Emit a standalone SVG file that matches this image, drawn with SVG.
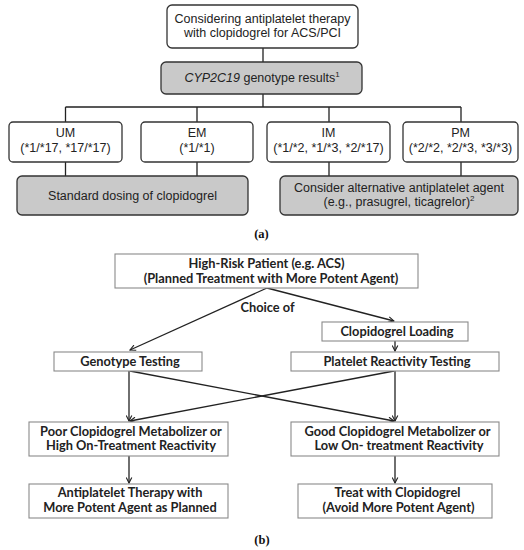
<svg xmlns="http://www.w3.org/2000/svg" width="524" height="550" viewBox="0 0 524 550">
<style>
.a{font-family:"Liberation Sans",Arial,sans-serif;font-size:12.5px;fill:#222;text-anchor:middle}
.b{font-family:Lato,"Open Sans",sans-serif;font-weight:bold;font-size:12.8px;fill:#222;text-anchor:middle}
.cap{font-family:"Liberation Serif",serif;font-weight:bold;font-size:12.5px;fill:#111;text-anchor:middle}
.wa{fill:#fff;stroke:#333;stroke-width:1.3}
.ga{fill:#c9c9c9;stroke:#333;stroke-width:1.3}
.wb{fill:#fff;stroke:#8a8a8a;stroke-width:1.1}
.la{stroke:#222;stroke-width:1.3;fill:none}
.lb{stroke:#222;stroke-width:1.3;fill:none}
</style>
<defs>
<marker id="arr" viewBox="0 0 10 10" refX="9" refY="5" markerWidth="7" markerHeight="7" orient="auto" markerUnits="userSpaceOnUse">
<path d="M1,1 L9,5 L1,9" fill="none" stroke="#222" stroke-width="1.6"/>
</marker>
</defs>
<rect width="524" height="550" fill="#fff"/>
<g id="connectors">
<path class="la" d="M263,48 V62 M263,94 V107 M65.5,107 H461 M65.5,107 V122 M197,107 V122 M329,107 V122 M461,107 V122 M65.5,162 V176 M197,162 V176 M329,162 V176 M461,162 V176"/>
<path class="lb" d="M267,288 L130,350" marker-end="url(#arr)"/>
<path class="lb" d="M267,288 L394,321" marker-end="url(#arr)"/>
<path class="lb" d="M395,341 V351" marker-end="url(#arr)"/>
<path class="lb" d="M129,371 V421" marker-end="url(#arr)"/>
<path class="lb" d="M130,371 L394,421" marker-end="url(#arr)"/>
<path class="lb" d="M395,371 V421" marker-end="url(#arr)"/>
<path class="lb" d="M394,371 L130,421" marker-end="url(#arr)"/>
<path class="lb" d="M129,456 V483" marker-end="url(#arr)"/>
<path class="lb" d="M395,456 V483" marker-end="url(#arr)"/>
</g>
<g id="a-start">
<rect class="wa" x="167" y="5" width="191" height="43" rx="5"/>
<text class="a" x="262.5" y="23">Considering antiplatelet therapy</text>
<text class="a" x="262.5" y="37">with clopidogrel for ACS/PCI</text>
</g>
<g id="a-genotype">
<rect class="ga" x="161" y="62" width="201" height="32" rx="5"/>
<text class="a" x="262" y="82"><tspan font-style="italic">CYP2C19</tspan> genotype results<tspan font-size="8" dy="-5">1</tspan></text>
</g>
<g id="a-um">
<rect class="wa" x="9" y="122" width="113" height="40" rx="4"/>
<text class="a" x="65.5" y="137">UM</text>
<text class="a" x="65.5" y="152">(*1/*17, *17/*17)</text>
</g>
<g id="a-em">
<rect class="wa" x="141" y="122" width="112" height="40" rx="4"/>
<text class="a" x="197" y="137">EM</text>
<text class="a" x="197" y="152">(*1/*1)</text>
</g>
<g id="a-im">
<rect class="wa" x="267" y="122" width="123" height="40" rx="4"/>
<text class="a" x="328.5" y="137">IM</text>
<text class="a" x="328.5" y="152">(*1/*2, *1/*3, *2/*17)</text>
</g>
<g id="a-pm">
<rect class="wa" x="403" y="122" width="115" height="40" rx="4"/>
<text class="a" x="460.5" y="137">PM</text>
<text class="a" x="460.5" y="152">(*2/*2, *2/*3, *3/*3)</text>
</g>
<g id="a-standard">
<rect class="ga" x="17" y="176" width="231" height="39" rx="5"/>
<text class="a" x="132.5" y="200">Standard dosing of clopidogrel</text>
</g>
<g id="a-alternative">
<rect class="ga" x="280" y="176" width="238" height="39" rx="5"/>
<text class="a" x="399" y="192">Consider alternative antiplatelet agent</text>
<text class="a" x="399" y="206">(e.g., prasugrel, ticagrelor)<tspan font-size="8" dy="-5">2</tspan></text>
</g>
<text class="cap" x="261.5" y="238">(a)</text>
<g id="b-highrisk">
<rect class="wb" x="115" y="254" width="303" height="34"/>
<text class="b" x="266.5" y="268">High-Risk Patient (e.g. ACS)</text>
<text class="b" x="271" y="282.5">(Planned Treatment with More Potent Agent)</text>
</g>
<text class="b" x="267.5" y="312">Choice of</text>
<g id="b-loading">
<rect class="wb" x="322" y="322" width="146" height="19"/>
<text class="b" x="397" y="336">Clopidogrel Loading</text>
</g>
<g id="b-genotype">
<rect class="wb" x="54" y="352" width="148" height="19"/>
<text class="b" x="130" y="366">Genotype Testing</text>
</g>
<g id="b-platelet">
<rect class="wb" x="291" y="352" width="208" height="19"/>
<text class="b" x="397" y="366">Platelet Reactivity Testing</text>
</g>
<g id="b-poor">
<rect class="wb" x="29" y="422" width="199" height="34"/>
<text class="b" x="131" y="435.5">Poor Clopidogrel Metabolizer or</text>
<text class="b" x="131" y="450">High On-Treatment Reactivity</text>
</g>
<g id="b-good">
<rect class="wb" x="291" y="422" width="208" height="34"/>
<text class="b" x="397.5" y="435.5">Good Clopidogrel Metabolizer or</text>
<text class="b" x="399" y="450">Low On- treatment Reactivity</text>
</g>
<g id="b-antiplatelet">
<rect class="wb" x="29" y="484" width="199" height="34"/>
<text class="b" x="130" y="497">Antiplatelet Therapy with</text>
<text class="b" x="130" y="511.5">More Potent Agent as Planned</text>
</g>
<g id="b-treat">
<rect class="wb" x="298" y="484" width="194" height="34"/>
<text class="b" x="397.5" y="497">Treat with Clopidogrel</text>
<text class="b" x="398.5" y="511.5">(Avoid More Potent Agent)</text>
</g>
<text class="cap" x="262" y="544">(b)</text>
</svg>
